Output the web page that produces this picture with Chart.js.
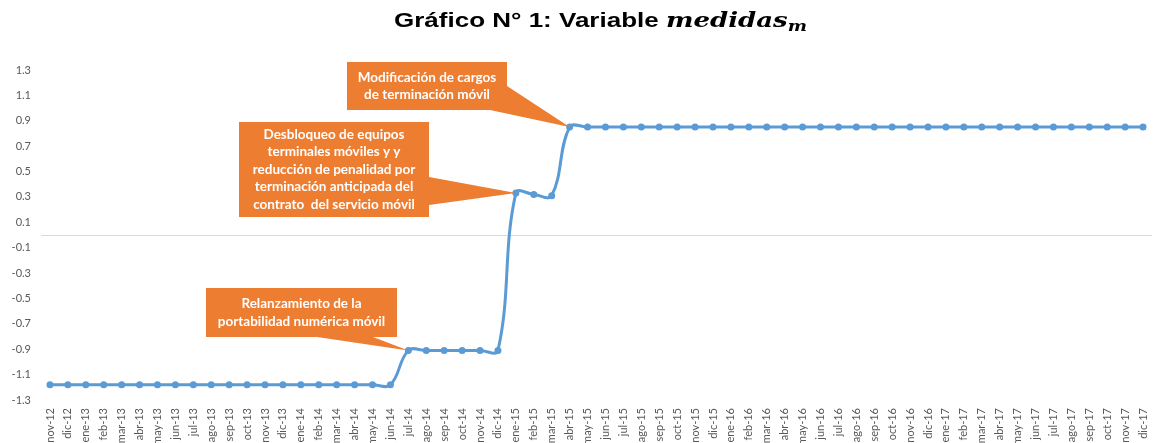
<html>
<head>
  <title>Gráfico N° 1</title>
  <style>
    body { margin: 0; background: #fff; }
    #wrap { position: relative; width: 1156px; height: 443px; }
    #titulo { position: absolute; top: 9px; left: 394px; font: bold 20px "Liberation Sans", Arial, sans-serif; color: #000; line-height: 23px; white-space: nowrap; transform: scaleX(1.3); transform-origin: left top; }
    #titulo i { font-family: "DejaVu Serif", serif; font-weight: bold; font-style: italic; }
    #titulo sub { font-size: 14px; vertical-align: -4px; line-height: 0; }
  </style>
</head>
<body>
<div id="wrap">
  <canvas id="myChart" width="1156" height="443"></canvas>
  <div id="titulo">Gráfico N° 1: Variable <i>medidas<sub>m</sub></i></div>
</div>

<script src="https://cdn.jsdelivr.net/npm/chart.js"></script>

<script>
  // meses nov-12 .. dic-17
  const meses = ['nov-12','dic-12',
    'ene-13','feb-13','mar-13','abr-13','may-13','jun-13','jul-13','ago-13','sep-13','oct-13','nov-13','dic-13',
    'ene-14','feb-14','mar-14','abr-14','may-14','jun-14','jul-14','ago-14','sep-14','oct-14','nov-14','dic-14',
    'ene-15','feb-15','mar-15','abr-15','may-15','jun-15','jul-15','ago-15','sep-15','oct-15','nov-15','dic-15',
    'ene-16','feb-16','mar-16','abr-16','may-16','jun-16','jul-16','ago-16','sep-16','oct-16','nov-16','dic-16',
    'ene-17','feb-17','mar-17','abr-17','may-17','jun-17','jul-17','ago-17','sep-17','oct-17','nov-17','dic-17'];

  const medidas = [-1.18,-1.18,
    -1.18,-1.18,-1.18,-1.18,-1.18,-1.18,-1.18,-1.18,-1.18,-1.18,-1.18,-1.18,
    -1.18,-1.18,-1.18,-1.18,-1.18,-1.18,-0.91,-0.91,-0.91,-0.91,-0.91,-0.91,
    0.33,0.32,0.31,0.85,0.85,0.85,0.85,0.85,0.85,0.85,0.85,0.85,
    0.85,0.85,0.85,0.85,0.85,0.85,0.85,0.85,0.85,0.85,0.85,0.85,
    0.85,0.85,0.85,0.85,0.85,0.85,0.85,0.85,0.85,0.85,0.85,0.85];

  const yMin = -1.3, yMax = 1.3, yStep = 0.2;

  // cuadros de texto (hito -> mes)
  const hitos = [
    { mes: 'jul-14', lines: ['Relanzamiento de la', 'portabilidad numérica móvil'] },
    { mes: 'ene-15', lines: ['Desbloqueo de equipos', 'terminales móviles y y', 'reducción de penalidad por', 'terminación anticipada del', 'contrato  del servicio móvil'] },
    { mes: 'abr-15', lines: ['Modificación de cargos', 'de terminación móvil'] }
  ];
  // caja y base de la flecha de cada cuadro
  const cajas = [
    { x: 206, y: 288, w: 191, h: 49, base: [[317, 337], [373, 337]] },
    { x: 239, y: 122, w: 190, h: 95, base: [[429, 177], [429, 205]] },
    { x: 347, y: 62, w: 160, h: 48, base: [[507, 86], [490, 110]] }
  ];

  const lineaCero = {
    id: 'lineaCero',
    beforeDatasetsDraw(chart) {
      const c = chart.ctx, y = chart.scales.y.getPixelForValue(0);
      c.save();
      c.strokeStyle = '#d9d9d9';
      c.lineWidth = 1;
      c.beginPath();
      c.moveTo(chart.chartArea.left, Math.round(y) + 0.5);
      c.lineTo(chart.chartArea.right, Math.round(y) + 0.5);
      c.stroke();
      c.restore();
    }
  };

  const llamadas = {
    id: 'llamadas',
    afterDatasetsDraw(chart) {
      const c = chart.ctx;
      hitos.forEach((h, i) => {
        const b = cajas[i];
        const idx = meses.indexOf(h.mes);
        const tx = chart.scales.x.getPixelForValue(idx);
        const ty = chart.scales.y.getPixelForValue(medidas[idx]);
        c.save();
        c.fillStyle = '#ed7d31';
        c.fillRect(b.x, b.y, b.w, b.h);
        c.beginPath();
        c.moveTo(b.base[0][0], b.base[0][1]);
        c.lineTo(tx, ty);
        c.lineTo(b.base[1][0], b.base[1][1]);
        c.closePath();
        c.fill();
        c.fillStyle = '#fff';
        c.font = 'bold 13.5px Lato';
        c.textAlign = 'center';
        c.textBaseline = 'middle';
        const lh = 17.5;
        const y0 = b.y + b.h / 2 - (h.lines.length - 1) * lh / 2;
        h.lines.forEach((t, k) => c.fillText(t, b.x + b.w / 2, y0 + k * lh));
        c.restore();
      });
    }
  };

  const ctx = document.getElementById('myChart');
  new Chart(ctx, {
    type: 'line',
    data: {
      labels: meses,
      datasets: [{
        label: 'medidas',
        data: medidas,
        borderColor: '#5b9bd5',
        backgroundColor: '#5b9bd5',
        borderWidth: 3,
        pointRadius: 3.5,
        pointBorderWidth: 0,
        pointBackgroundColor: '#5b9bd5',
        tension: 0.4
      }]
    },
    options: {
      responsive: false,
      animation: false,
      layout: { padding: { top: 70, left: 1, right: -7, bottom: 0 } },
      plugins: { legend: { display: false }, tooltip: { enabled: false } },
      scales: {
        x: {
          offset: true,
          grid: { display: false, drawTicks: false },
          border: { display: false },
          ticks: {
            autoSkip: false, minRotation: 90, maxRotation: 90, padding: 8,
            color: '#595959', font: { family: 'Lato', size: 11 }
          },
          afterFit(s) { s.height = 43; s.paddingLeft = 0; s.paddingRight = 0; }
        },
        y: {
          min: yMin, max: yMax,
          grid: { display: false, drawTicks: false },
          border: { display: false },
          ticks: {
            stepSize: yStep, padding: 10,
            color: '#595959', font: { family: 'Lato', size: 11 },
            callback: v => v.toFixed(1)
          },
          afterFit(s) { s.width = 40; }
        }
      }
    },
    plugins: [lineaCero, llamadas]
  });
</script>
</body>
</html>
